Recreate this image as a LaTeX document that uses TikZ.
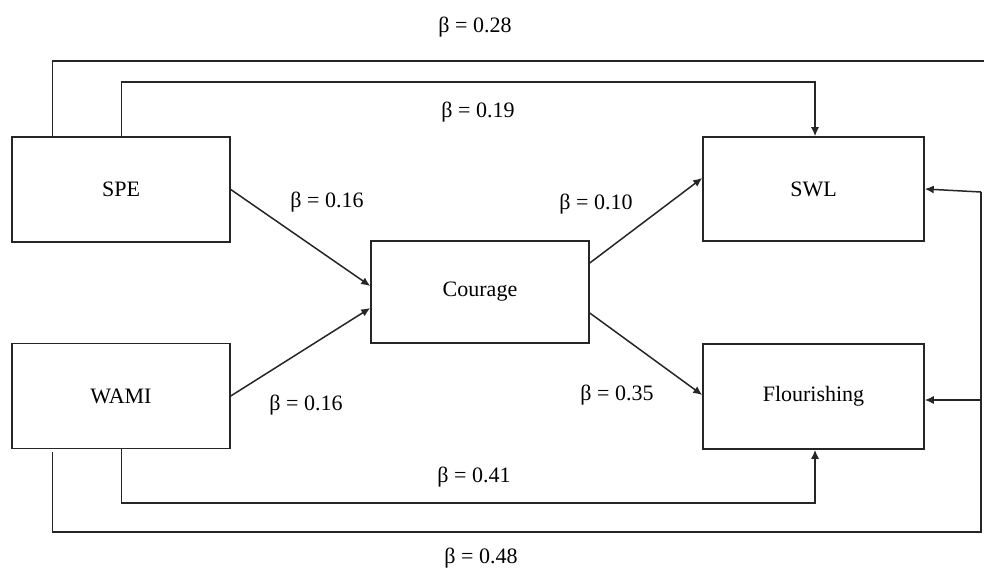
\documentclass[tikz,border=0pt]{standalone}
\usepackage{fontspec}
\setmainfont{Liberation Serif}
\usetikzlibrary{arrows.meta}
\begin{document}
\begin{tikzpicture}[x=1pt,y=-1pt,
  box/.style={draw=black!85,line width=1.5pt,inner sep=0pt,font=\fontsize{22}{26}\selectfont},
  conn/.style={draw=black!85,line width=1.5pt},
  arr/.style={conn,-{Latex[length=9pt,width=8pt]}},
  lab/.style={anchor=base,inner sep=0pt,font=\fontsize{22}{26}\selectfont}]
\useasboundingbox (0,0) rectangle (984,569);
% boxes
\node[box,minimum width=218pt,minimum height=105pt] (spe) at (121,189.5) {SPE};
\node[box,minimum width=218pt,minimum height=105pt] (wami) at (121,396) {WAMI};
\node[box,minimum width=218pt,minimum height=102pt] (cour) at (480,292) {Courage};
\node[box,minimum width=221pt,minimum height=104pt] (swl) at (813.5,189) {SWL};
\node[box,minimum width=221pt,minimum height=105pt] (flo) at (813.5,396.5) {Flourishing};
% free-end coordinates
\coordinate (topend) at (984,61);
\coordinate (rtop) at (981,192);
\coordinate (rmid) at (981,400);
\coordinate (rbot) at (981,532);
% direct paths
\draw[arr] (spe.east) -- ([yshift=6pt]cour.west);
\draw[arr] (wami.east) -- ([yshift=-16pt]cour.west);
\draw[arr] ([yshift=29pt]cour.east) -- ([yshift=11pt]swl.west);
\draw[arr] ([yshift=-21pt]cour.east) -- ([yshift=1.5pt]flo.west);
% SPE outer path (0.28)
\draw[conn] ([xshift=41pt,yshift=-2pt]spe.north west) |- (topend);
% SPE -> SWL (0.19)
\draw[arr] ([xshift=110pt]spe.north west) |- (500,82) -| ([xshift=1.5pt]swl.north);
% WAMI -> Flourishing (0.41)
\draw[arr] ([xshift=110pt]wami.south west) |- (500,503) -| ([xshift=1.5pt]flo.south);
% WAMI outer path (0.48)
\draw[conn] ([xshift=41pt,yshift=-3pt]wami.south west) |- (rbot) -- (rtop);
\draw[arr] (rtop) -- (swl.east);
\draw[arr] (rmid) -- ([yshift=-3.5pt]flo.east);
% labels
\node[lab] (l28) at (475,33) {β = 0.28};
\node[lab] (l19) at (478,118) {β = 0.19};
\node[lab] (l16a) at (327,208) {β = 0.16};
\node[lab] (l10) at (596,210) {β = 0.10};
\node[lab] (l35) at (617,400) {β = 0.35};
\node[lab] (l16b) at (306,410) {β = 0.16};
\node[lab] (l41) at (474,482) {β = 0.41};
\node[lab] (l48) at (481,563) {β = 0.48};
\end{tikzpicture}
\end{document}
